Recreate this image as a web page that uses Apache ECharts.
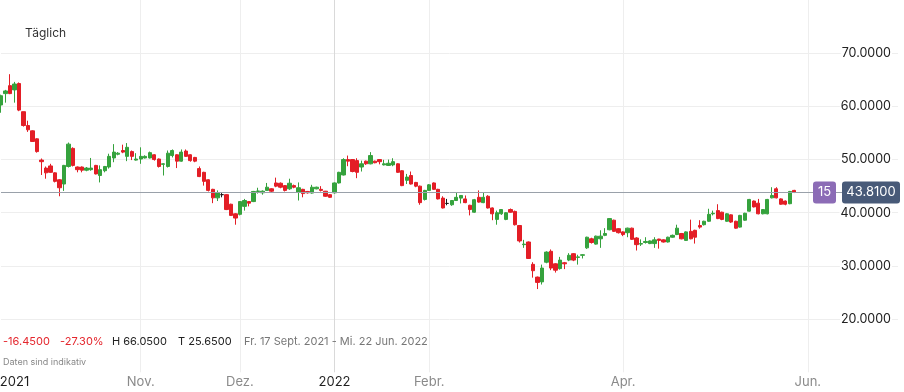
<!DOCTYPE html>
<html><head><meta charset="utf-8">
<script src="https://cdn.jsdelivr.net/npm/echarts@6/dist/echarts.min.js"></script>
<style>html,body{margin:0;padding:0;background:#fff}#c{width:904px;height:392px}</style>
</head><body><div id="c"></div>
<script>
// Daily candles: [open, close, low, high]
const dailyOHLC = [
[60.26,62.0,58.8,62.2],[62.4,62.9,60.7,63.1],[63.9,62.4,62.3,66.05],[63.1,64.2,60.7,64.6],[64.3,59.3,59.1,64.5],
[59.0,56.4,56.2,59.0],[56.4,55.6,55.2,57.3],[55.4,53.4,53.3,55.5],[53.9,51.5,51.3,54.0],[49.9,49.6,47.1,50.2],
[48.4,47.5,46.4,48.7],[48.8,47.6,47.5,49.2],[47.5,45.9,45.7,47.6],[46.2,44.7,43.1,46.3],[45.4,48.9,44.1,49.0],
[48.7,52.9,48.5,53.2],[52.1,48.9,48.7,52.3],[48.6,48.1,47.6,48.7],[48.6,48.0,47.6,48.7],[48.0,48.4,47.8,48.6],
[48.1,48.4,47.9,50.3],[48.9,47.3,47.2,49.0],[47.0,48.1,45.7,48.9],[47.9,48.7,47.6,48.8],[48.6,50.6,48.3,51.1],
[50.3,51.4,49.5,52.9],[51.0,51.2,50.8,51.4],[51.7,51.4,51.2,52.8],[50.6,52.3,49.7,53.1],[51.5,50.6,49.9,51.7],
[49.9,50.1,49.8,51.2],[50.1,50.6,49.2,52.3],[50.3,50.6,50.2,50.8],[50.3,51.3,50.2,51.5],[50.9,50.0,49.8,51.0],
[50.1,48.7,48.5,50.2],[49.1,49.2,47.0,49.3],[48.7,51.2,48.5,51.7],[50.75,51.7,50.4,51.9],[50.9,49.7,48.4,51.0],
[49.7,51.4,49.6,51.9],[51.6,50.6,50.5,51.9],[50.9,49.8,49.6,51.0],[50.4,49.7,49.5,50.5],[48.3,46.8,46.7,48.7],
[47.6,45.9,45.1,47.7],[46.2,44.2,44.0,46.3],[44.4,42.8,41.8,44.5],[42.8,43.7,42.2,44.2],[43.4,43.4,42.9,43.7],
[43.4,40.6,40.5,43.5],[41.6,39.5,39.4,41.7],[39.8,39.0,37.75,39.9],[39.7,42.1,39.5,42.2],[41.2,42.3,40.4,42.6],
[42.1,41.8,41.2,42.2],[42.1,44.0,42.0,44.1],[44.0,44.1,43.6,44.7],[43.75,44.05,43.4,44.2],[44.2,44.8,44.1,45.6],
[44.5,44.05,43.9,44.6],[45.6,45.0,44.8,46.6],[45.55,44.8,44.6,45.7],[45.1,44.2,44.0,45.2],[44.5,45.55,44.3,46.4],
[45.1,44.8,44.6,45.3],[43.9,44.7,42.3,45.7],[44.4,43.6,42.9,44.5],[44.0,43.75,43.6,44.1],[43.7,44.8,43.6,45.25],
[44.5,44.8,44.4,44.9],[44.4,44.2,44.0,45.0],[44.05,43.1,43.0,44.1],[43.4,42.9,42.8,43.5],[43.75,45.6,43.6,45.7],
[45.6,47.6,45.5,47.7],[47.1,50.0,47.0,50.25],[50.0,49.7,48.75,50.75],[50.0,47.75,47.6,50.1],[49.8,47.6,46.5,50.25],
[48.6,49.2,47.75,49.8],[49.7,49.2,49.0,49.8],[49.2,50.75,49.1,51.4],[49.7,49.4,49.3,49.8],[50.0,49.6,49.1,50.1],
[49.0,49.2,48.9,49.95],[48.9,49.3,48.8,50.0],[49.0,49.6,48.75,50.25],[49.2,47.6,47.5,49.3],[47.9,45.1,45.0,48.0],
[46.1,46.7,45.4,47.3],[47.0,45.4,45.3,47.75],[45.7,45.0,44.8,45.8],[45.0,41.9,41.5,45.1],[42.5,44.2,42.3,44.3],
[44.2,45.25,44.1,45.4],[45.6,44.4,44.3,45.7],[44.4,42.6,42.5,44.5],[42.75,40.9,40.8,43.1],[41.75,41.75,41.4,42.6],
[41.5,42.3,41.3,42.4],[42.3,42.9,42.2,43.9],[42.75,43.25,41.75,43.3],[42.6,41.9,41.8,43.25],[41.4,40.6,39.5,41.5],
[40.1,42.45,40.0,42.6],[42.9,42.0,41.9,44.2],[41.9,42.9,41.8,43.9],[43.1,40.9,40.8,43.3],[40.9,39.8,38.6,41.0],
[38.75,40.0,37.75,40.4],[39.8,40.6,39.6,40.7],[38.75,40.0,38.6,40.1],[40.6,40.1,40.0,40.8],[40.25,37.75,37.6,40.4],
[37.6,34.7,34.4,37.7],[34.0,34.1,33.4,34.9],[34.5,31.4,31.3,34.6],[30.3,29.1,27.8,30.7],[27.9,26.9,25.65,28.0],
[27.0,29.6,26.5,30.25],[30.7,32.6,30.5,32.75],[32.75,29.6,29.2,33.1],[30.4,29.2,28.75,30.5],[29.5,31.1,29.3,31.7],
[30.6,30.4,29.4,30.75],[31.1,32.0,30.9,32.4],[32.3,31.1,30.9,32.4],[31.6,31.7,30.25,32.1],[32.0,32.1,31.4,32.2],
[33.4,35.4,33.2,35.5],[35.1,34.4,34.2,35.3],[34.1,35.6,34.0,35.7],[35.1,35.6,33.4,36.7],[35.75,36.1,35.6,37.1],
[36.8,38.9,36.7,39.0],[38.6,36.5,36.4,38.7],[37.0,36.25,36.1,37.1],[36.4,35.9,35.6,36.5],[36.25,37.1,35.4,37.2],
[37.1,35.0,34.9,37.2],[35.25,34.0,32.9,35.4],[34.1,34.2,33.75,35.0],[34.4,34.6,34.2,35.4],[34.2,34.7,34.1,34.8],
[34.2,34.9,33.4,35.4],[35.05,34.8,33.25,35.1],[34.9,34.5,34.4,35.0],[34.5,35.4,34.4,35.5],[35.4,35.75,35.3,35.9],
[35.9,37.1,35.8,37.75],[36.1,35.1,35.0,36.2],[34.8,36.4,34.7,36.5],[36.5,35.1,35.0,38.7],[36.7,35.4,34.2,36.8],
[37.6,37.3,37.0,38.6],[37.75,38.4,37.6,38.5],[38.4,39.7,38.3,40.75],[39.8,39.9,39.5,40.4],[40.4,38.9,38.8,41.6],
[40.1,38.75,38.6,40.2],[38.4,39.8,38.3,39.9],[39.6,38.25,38.1,39.7],[38.4,37.1,37.0,38.5],[37.3,39.5,37.2,39.6],
[38.6,39.9,38.5,40.0],[40.3,42.5,40.2,42.6],[42.2,41.1,41.0,42.3],[41.8,39.8,39.7,42.6],[39.8,40.6,39.7,40.7],
[39.8,42.5,39.7,42.6],[42.8,43.25,42.7,44.8],[44.5,42.8,42.7,44.8],[42.6,41.6,41.5,42.7],[42.2,41.6,41.4,42.3],
[41.7,44.0,41.6,44.1],[44.2,43.81,43.7,44.3]
];
const slotCount = 200;              // category slots on the time axis (data + empty space on the right)
const xLabelIdx = [3, 31, 53, 74, 95, 138, 179];
const xLabelText = ['2021', 'Nov.', 'Dez.', '2022', 'Febr.', 'Apr.', 'Jun.'];
const yearLabels = ['2021', '2022'];
const gridLineIdx = [31, 53, 74, 95, 138, 179];
const yMin = 10, yMax = 80, yStep = 10;
const lastClose = 43.81;
const badgeCount = '15';
const statChange = '-16.4500', statPct = '-27.30%', statHigh = 'H 66.0500', statLow = 'T 25.6500';
const statRange = 'Fr. 17 Sept. 2021 - Mi. 22 Jun. 2022';

const FONT = 'Inter, "Noto Sans", sans-serif';
const categories = Array.from({length: slotCount}, (_, i) => String(i));
const labelMap = {};
xLabelIdx.forEach((i, k) => labelMap[i] = xLabelText[k]);
const gridSet = new Set(gridLineIdx);

const chart = echarts.init(document.getElementById('c'), null, {renderer: 'canvas'});
chart.setOption({
  animation: false,
  backgroundColor: '#fff',
  grid: {left: 1, right: 6, top: 0, bottom: 19.7, containLabel: false, outerBoundsMode: 'none'},
  xAxis: {
    type: 'category', data: categories, boundaryGap: false,
    axisLine: {show: false}, axisTick: {show: false},
    axisLabel: {
      interval: (i) => labelMap[i] !== undefined,
      margin: 3,
      formatter: (v, i) => {
        const t = labelMap[i];
        if (t === undefined) return '';
        return yearLabels.includes(t) ? '{y|' + t + '}' : '{m|' + t + '}';
      },
      rich: {
        y: {color: '#1f1f1f', fontSize: 13, fontFamily: FONT},
        m: {color: '#8a8a8a', fontSize: 13, fontFamily: FONT}
      }
    },
    splitLine: {
      show: true,
      interval: (i) => gridSet.has(i),
      lineStyle: {color: ['#eeeeee', '#eeeeee', '#d9d9d9', '#eeeeee', '#eeeeee', '#eeeeee'], width: 1}
    }
  },
  yAxis: {
    type: 'value', position: 'right', min: yMin, max: yMax, interval: yStep, scale: true,
    axisLine: {show: false}, axisTick: {show: false},
    axisLabel: {
      inside: true, margin: 6, showMinLabel: false, showMaxLabel: false,
      formatter: (v) => v.toFixed(4),
      color: '#222', fontSize: 12.5, fontFamily: FONT,
      backgroundColor: '#fff', padding: [1, 1]
    },
    splitLine: {show: true, lineStyle: {color: ['transparent', '#eeeeee', '#eeeeee', '#eeeeee', '#eeeeee', '#eeeeee', '#eeeeee', 'transparent'], width: 1}}
  },
  series: [{
    type: 'candlestick',
    data: dailyOHLC,
    barWidth: 3.8,
    clip: true,
    itemStyle: {
      color: '#35a23d', color0: '#e31e26',
      borderColor: '#35a23d', borderColor0: '#e31e26',
      borderColorDoji: '#1a1a1a', borderWidth: 1
    },
    markLine: {
      silent: true, symbol: ['none', 'none'],
      label: {show: false},
      lineStyle: {color: '#9aa1aa', type: 'solid', width: 1},
      data: [{yAxis: lastClose}]
    },
    z: 3
  }]
});

const yPix = chart.convertToPixel({yAxisIndex: 0}, lastClose);
chart.setOption({
  graphic: [
    {type: 'text', left: 25, top: 27, style: {text: 'Täglich', font: '12px ' + FONT, fill: '#333'}},
    {type: 'text', left: 3, top: 336, style: {text: statChange, font: '11px ' + FONT, fill: '#e4262d'}},
    {type: 'text', left: 60, top: 336, style: {text: statPct, font: '11px ' + FONT, fill: '#e4262d'}},
    {type: 'text', left: 112, top: 336, style: {text: statHigh, font: '11px ' + FONT, fill: '#222'}},
    {type: 'text', left: 178, top: 336, style: {text: statLow, font: '11px ' + FONT, fill: '#222'}},
    {type: 'text', left: 244, top: 336, style: {text: statRange, font: '11px ' + FONT, fill: '#777'}},
    {type: 'text', left: 3, top: 358, style: {text: 'Daten sind indikativ', font: '9px ' + FONT, fill: '#888'}},
    {type: 'rect', shape: {x: 813, y: yPix - 11, width: 23, height: 22, r: 3}, style: {fill: '#8c6cb6'}, z: 10},
    {type: 'text', x: 824.5, y: yPix, style: {text: badgeCount, font: '13px ' + FONT, fill: '#fff', align: 'center', verticalAlign: 'middle'}, z: 11},
    {type: 'rect', shape: {x: 842, y: yPix - 11, width: 58, height: 22, r: 3}, style: {fill: '#485a78'}, z: 10},
    {type: 'text', x: 871, y: yPix, style: {text: lastClose.toFixed(4), font: '13px ' + FONT, fill: '#fff', align: 'center', verticalAlign: 'middle'}, z: 11}
  ]
});
</script>
</body></html>
